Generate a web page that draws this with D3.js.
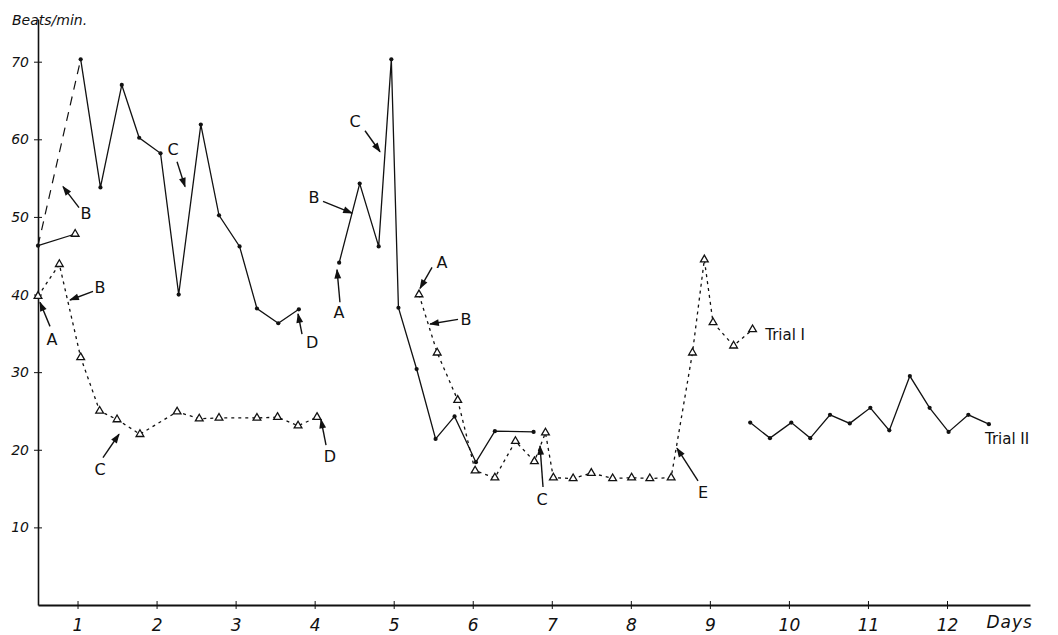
<!DOCTYPE html>
<html><head><meta charset="utf-8">
<script src="https://cdn.jsdelivr.net/npm/d3@7"></script>
<style>body{margin:0;background:#fff}svg{display:block}</style>
</head><body>
<svg id="c" width="1058" height="635"></svg>
<script>
// ---- data (day, beats/min) ----
const trialII_a = [[1.04,70.3],[1.29,53.8],[1.56,67.0],[1.78,60.2],[2.05,58.2],[2.28,40.0],[2.56,61.9],[2.79,50.2],[3.05,46.2],[3.27,38.2],[3.54,36.3],[3.80,38.1]];
const trialII_lead = [[0.5,46.3],[1.04,70.3]];
const trialII_stub = [[0.5,46.3],[0.97,47.8]];
const trialII_b = [[4.31,44.1],[4.57,54.3],[4.81,46.2],[4.97,70.3],[5.06,38.3],[5.29,30.4],[5.53,21.4],[5.77,24.3],[6.04,18.4],[6.28,22.4],[6.77,22.3]];
const trialII_c = [[9.51,23.5],[9.76,21.5],[10.03,23.5],[10.27,21.5],[10.52,24.5],[10.77,23.4],[11.03,25.4],[11.27,22.5],[11.53,29.5],[11.78,25.4],[12.02,22.3],[12.27,24.5],[12.53,23.3]];
const trialI_a = [[0.5,39.8],[0.77,43.9],[1.04,31.9],[1.28,25.0],[1.50,23.9],[1.79,22.0],[2.26,24.9],[2.54,24.0],[2.79,24.1],[3.27,24.1],[3.53,24.2],[3.79,23.1],[4.03,24.2]];
const trialI_b = [[5.32,40.0],[5.55,32.5],[5.81,26.4],[6.03,17.3],[6.28,16.4],[6.54,21.1],[6.78,18.5],[6.92,22.2],[7.02,16.4],[7.27,16.3],[7.50,17.0],[7.77,16.3],[8.01,16.4],[8.24,16.3],[8.51,16.4],[8.78,32.5],[8.93,44.5],[9.04,36.4],[9.30,33.4],[9.54,35.5]];
const yTicks = [10,20,30,40,50,60,70];
const yTickLabels = ["10","20","30","40","50","60","70"];
const xTicks = [1,2,3,4,5,6,7,8,9,10,11,12];
const xTickLabels = ["1","2","3","4","5","6","7","8","9","10","11","12"];
// annotation letters: label centre, arrow tail, arrow tip (in day / beats units)
const notes = [
  {t:"A", l:[0.677,34.2], a:[0.652,35.9], b:[0.525,39.0]},
  {t:"B", l:[1.107,50.5], a:[1.019,51.2], b:[0.816,53.9]},
  {t:"B", l:[1.284,40.9], a:[1.196,40.4], b:[0.905,39.3]},
  {t:"C", l:[2.208,58.7], a:[2.259,57.1], b:[2.36,53.9]},
  {t:"D", l:[3.967,33.8], a:[3.84,34.9], b:[3.79,37.5]},
  {t:"C", l:[1.284,17.5], a:[1.322,19.0], b:[1.525,22.0]},
  {t:"D", l:[4.194,19.2], a:[4.144,20.6], b:[4.08,23.9]},
  {t:"B", l:[3.992,52.5], a:[4.106,52.0], b:[4.473,50.5]},
  {t:"C", l:[4.51,62.3], a:[4.637,61.1], b:[4.827,58.4]},
  {t:"A", l:[4.308,37.7], a:[4.32,39.0], b:[4.283,43.2]},
  {t:"A", l:[5.611,44.1], a:[5.485,43.5], b:[5.333,40.8]},
  {t:"B", l:[5.915,36.8], a:[5.814,36.8], b:[5.46,36.2]},
  {t:"C", l:[6.877,13.6], a:[6.889,15.2], b:[6.851,20.5]},
  {t:"E", l:[8.913,14.5], a:[8.85,16.0], b:[8.584,20.2]}
];
const seriesLabels = [{t:"Trial I", p:[9.70,34.9]},{t:"Trial II", p:[12.48,21.4]}];

// ---- drawing ----
const svg = d3.select("#c");
const ink = "#111";
const x = d3.scaleLinear().domain([0.5,13.05]).range([38,1030]);
const y = d3.scaleLinear().domain([0,75.5]).range([605,19]);

svg.append("defs").append("marker").attr("id","ah").attr("viewBox","0 0 10 10")
  .attr("refX",9).attr("refY",5).attr("markerWidth",9).attr("markerHeight",7).attr("orient","auto")
  .append("path").attr("d","M0,1.5 L10,5 L0,8.5 z").attr("fill",ink);

const yAxis = d3.axisLeft(y).tickValues(yTicks).tickFormat((d,i)=>yTickLabels[i]).tickSizeInner(4).tickSizeOuter(0).tickPadding(5);
const gy = svg.append("g").attr("transform",`translate(${x(0.5)},0)`).call(yAxis);
gy.selectAll("text").attr("font-family","DejaVu Sans, sans-serif").attr("font-style","italic").attr("font-size",14).attr("fill",ink);
gy.selectAll("line").attr("stroke",ink).attr("x2",4).attr("x1",-4);
gy.select(".domain").attr("stroke",ink).attr("stroke-width",1.6);

const xAxis = d3.axisBottom(x).tickValues(xTicks).tickFormat((d,i)=>xTickLabels[i]).tickSizeInner(4).tickSizeOuter(0).tickPadding(10);
const gx = svg.append("g").attr("transform",`translate(0,${y(0)})`).call(xAxis);
gx.selectAll("text").attr("font-family","DejaVu Sans, sans-serif").attr("font-style","italic").attr("font-size",17).attr("fill",ink);
gx.selectAll("line").attr("stroke",ink).attr("y1",-4).attr("y2",4);
gx.select(".domain").attr("stroke",ink).attr("stroke-width",2);

svg.append("text").attr("x",12).attr("y",y(75.5)+6).text("Beats/min.")
  .attr("font-family","DejaVu Sans, sans-serif").attr("font-style","italic").attr("font-size",14).attr("fill",ink);
svg.append("text").attr("x",x(12.5)).attr("y",y(0)+23).text("Days")
  .attr("font-family","DejaVu Sans, sans-serif").attr("font-style","italic").attr("font-size",17).attr("fill",ink).attr("letter-spacing",1);

const line = d3.line().x(d=>x(d[0])).y(d=>y(d[1]));
function path(data, dash, w){
  svg.append("path").datum(data).attr("d",line).attr("fill","none").attr("stroke",ink)
    .attr("stroke-width",w).attr("stroke-dasharray",dash);
}
[trialII_a, trialII_b, trialII_c, trialII_stub].forEach(s=>path(s,null,1.3));
path(trialII_lead,"9,7",1.2);
[trialI_a, trialI_b].forEach(s=>path(s,"3,4",1.3));

[trialII_a, trialII_b, trialII_c, trialII_lead.slice(0,1)].forEach(s=>{
  svg.append("g").selectAll("circle").data(s).join("circle")
    .attr("cx",d=>x(d[0])).attr("cy",d=>y(d[1])).attr("r",2.1).attr("fill",ink);
});
const tri = d3.symbol().type(d3.symbolTriangle).size(26);
[trialI_a, trialI_b, trialII_stub.slice(1)].forEach(s=>{
  svg.append("g").selectAll("path").data(s).join("path")
    .attr("d",tri).attr("transform",d=>`translate(${x(d[0])},${y(d[1])})`)
    .attr("fill","#fff").attr("stroke",ink).attr("stroke-width",1.3);
});

const ng = svg.append("g");
notes.forEach(n=>{
  ng.append("line").attr("x1",x(n.a[0])).attr("y1",y(n.a[1])).attr("x2",x(n.b[0])).attr("y2",y(n.b[1]))
    .attr("stroke",ink).attr("stroke-width",1.4).attr("marker-end","url(#ah)");
  ng.append("text").attr("x",x(n.l[0])).attr("y",y(n.l[1])).attr("dy","0.36em").attr("text-anchor","middle")
    .text(n.t).attr("font-family","DejaVu Sans, sans-serif").attr("font-size",16).attr("fill",ink);
});
seriesLabels.forEach(s=>{
  svg.append("text").attr("x",x(s.p[0])).attr("y",y(s.p[1])).attr("dy","0.36em").text(s.t)
    .attr("font-family","DejaVu Sans, sans-serif").attr("font-size",15).attr("fill",ink);
});
</script>
</body></html>
